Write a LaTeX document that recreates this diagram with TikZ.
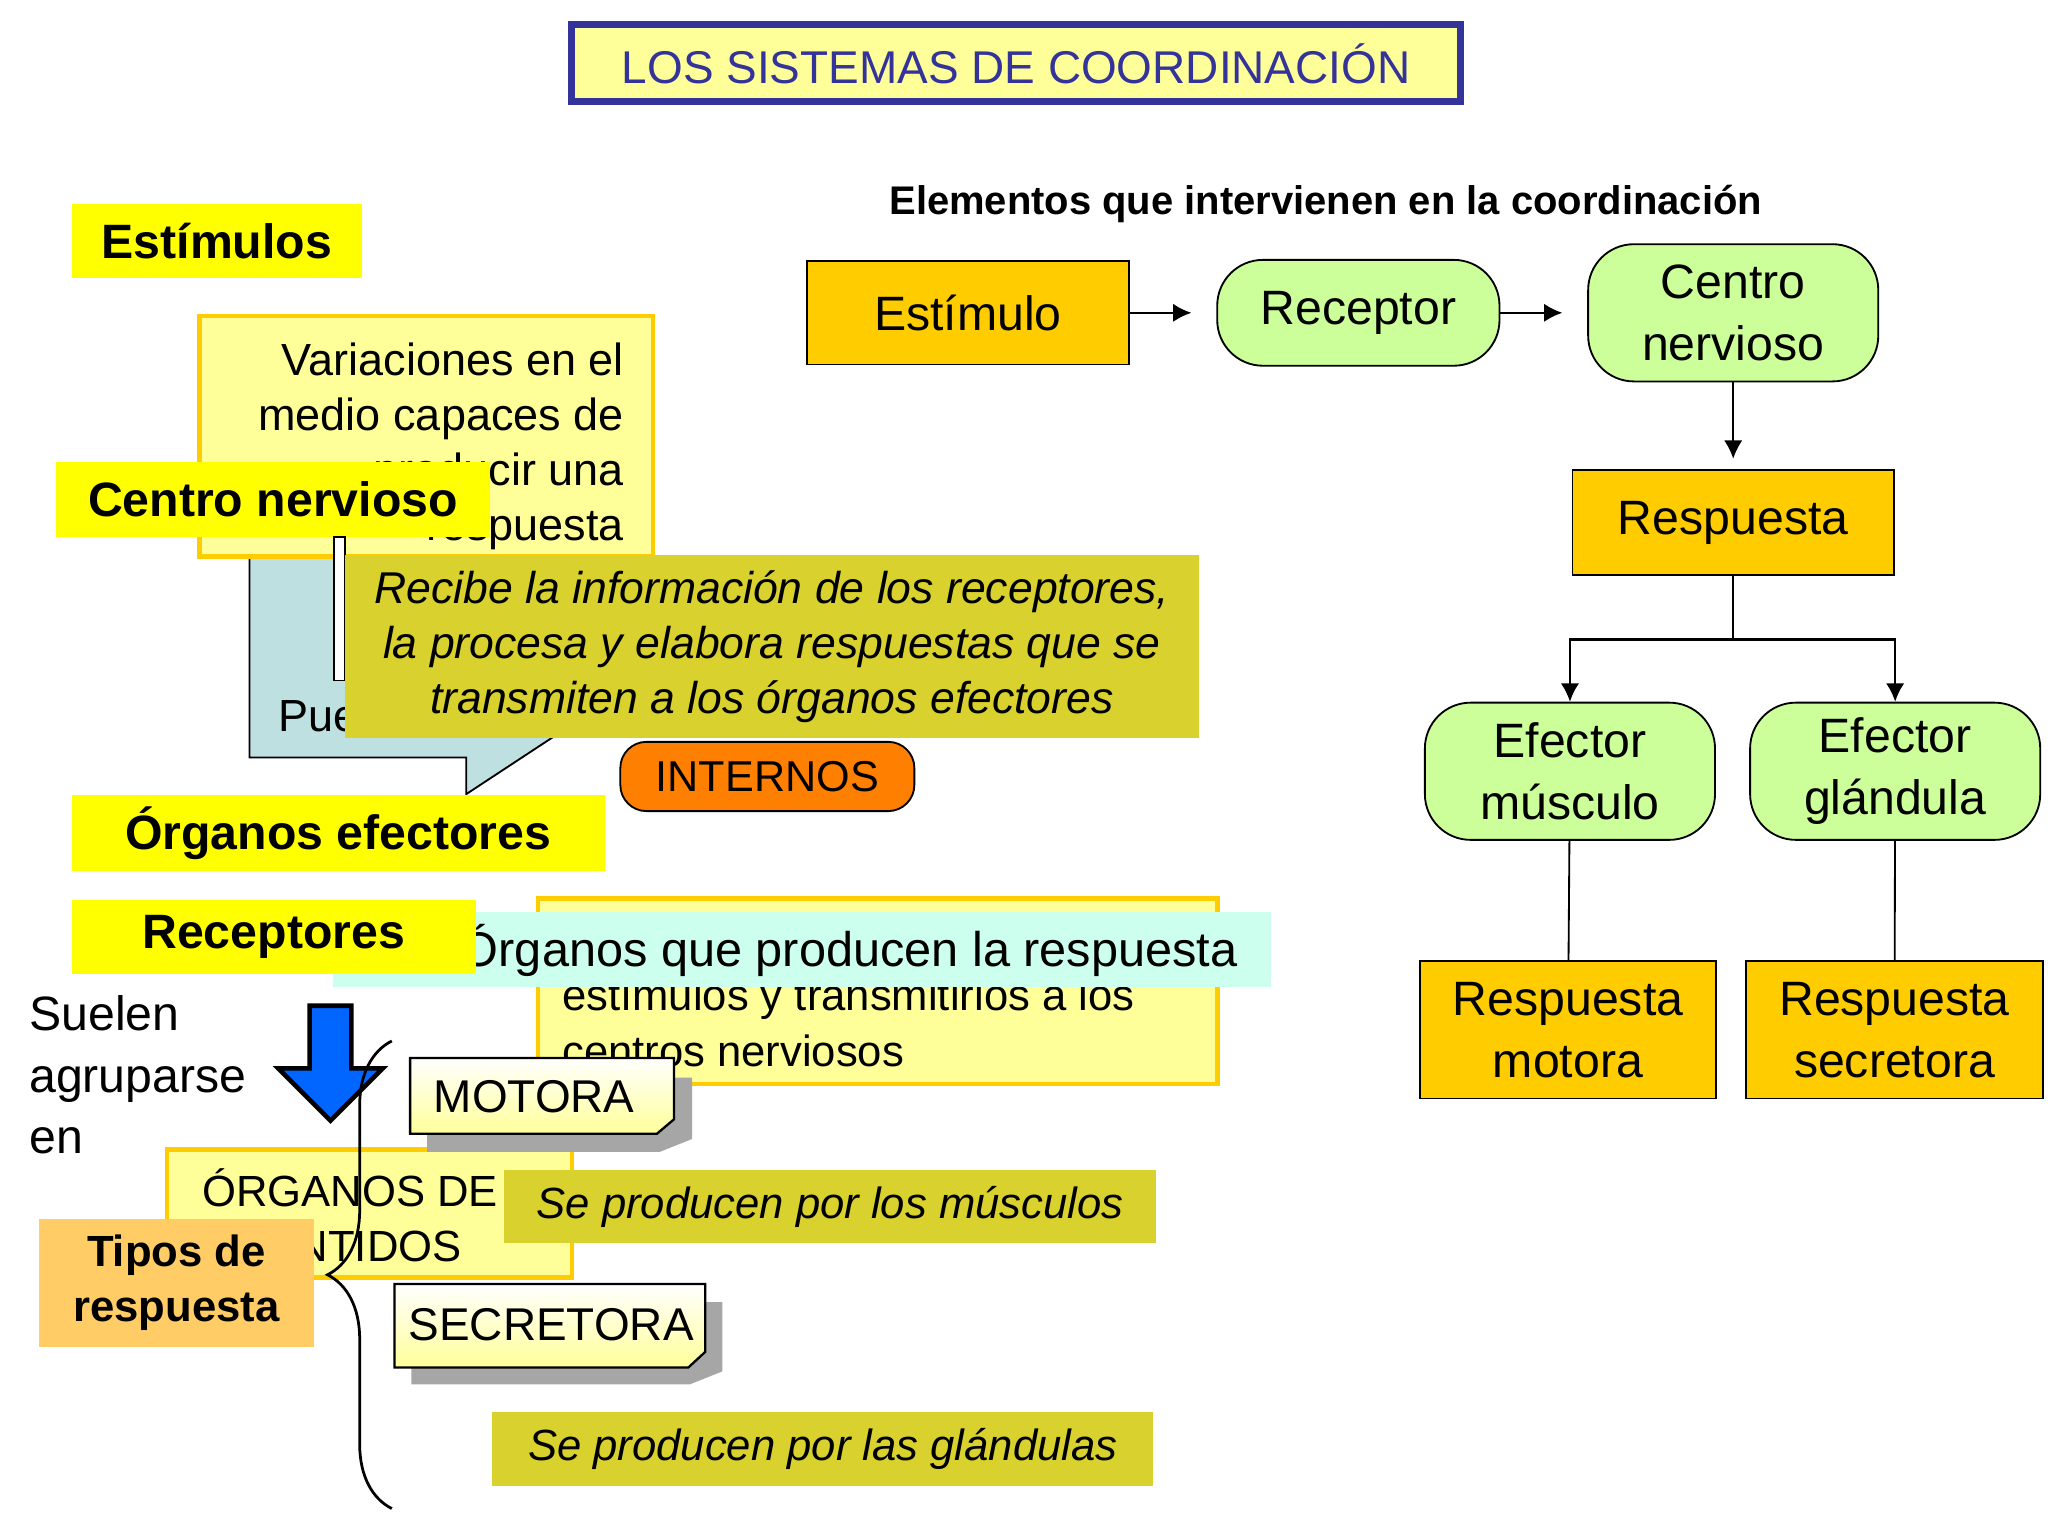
\documentclass[tikz,border=0pt]{standalone}
\usepackage{fontspec}
\setmainfont{Liberation Sans}
\usetikzlibrary{positioning,arrows.meta,decorations.pathreplacing}
\definecolor{lblyel}{HTML}{FFFF00}
\definecolor{paleyel}{HTML}{FFFF99}
\definecolor{olive}{HTML}{D9D12E}
\definecolor{flowyel}{HTML}{FFCC00}
\definecolor{flowgrn}{HTML}{CCFF99}
\definecolor{navy}{HTML}{333399}
\definecolor{callblue}{HTML}{BFE0E0}
\definecolor{cyanstrip}{HTML}{CCFFEE}
\definecolor{tipos}{HTML}{FFCC66}
\tikzset{
  lbl/.style={fill=lblyel, inner sep=0pt, font=\fontsize{10.5}{12}\selectfont\bfseries},
  palebox/.style={fill=paleyel, draw=flowyel, line width=1pt, inner sep=0pt},
  olivebox/.style={fill=olive, inner sep=0pt, font=\fontsize{9.5}{12}\selectfont\itshape, align=center},
  flowbox/.style={draw=black, fill=flowyel, inner sep=0pt, align=center, font=\fontsize{10.5}{13.4}\selectfont},
  flowround/.style={flowbox, fill=flowgrn, rounded corners=0.35cm},
  link/.style={-{Latex[length=4pt,width=4pt]}, line width=0.5pt},
  notetxt/.style={font=\fontsize{10}{12}\selectfont},
}
\begin{document}
\begin{tikzpicture}[x=0.01cm,y=-0.01cm]
  \useasboundingbox (0,0) rectangle (1568,1176);
  % left side, stacked slide layers
  \fill[callblue, draw=black, line width=0.4pt] (191,405) -- (191,580) -- (357,580) -- (357,608) -- (430,560) -- (430,405) -- cycle;
  \node[anchor=west, font=\fontsize{9.8}{12}\selectfont] (pue) at (201,548) {Pue};
  \node[palebox, minimum width=3.47cm, minimum height=1.84cm] (variac) at (326.5,334) {};
  \node[anchor=north east, align=right, font=\fontsize{9.8}{12}\selectfont] (variactxt) at (490,250)
    {Variaciones en el\\medio capaces de\\producir una\\respuesta};
  \node[lbl, minimum width=2.22cm, minimum height=0.57cm] (estim) at (166,184.5) {Estímulos};
  \node[lbl, minimum width=3.32cm, minimum height=0.57cm] (centro) at (209,382.5) {Centro nervioso};
  \fill[white, draw=black, line width=0.4pt] (256,411) rectangle (264,521);
  \node[olivebox, minimum width=6.54cm, minimum height=1.40cm, font=\fontsize{9.7}{12}\selectfont\itshape] (recibe) at (591,495)
    {Recibe la información de los receptores,\\la procesa y elabora respuestas que se\\transmiten a los órganos efectores};
  \node[draw=black, fill=orange, rounded corners=0.2cm, minimum width=2.25cm, minimum height=0.53cm, inner sep=0pt,
    font=\fontsize{9.4}{12}\selectfont] (internos) at (587.5,594.5) {INTERNOS};
  \node[lbl, minimum width=4.08cm, minimum height=0.58cm] (efect) at (259,638) {Órganos efectores};
  \node[palebox, minimum width=5.20cm, minimum height=1.42cm] (estbox) at (672,759) {};
  \node[anchor=north west, align=left, font=\fontsize{9.5}{12}\selectfont] (esttxt) at (418,737)
    {estímulos y transmitirlos a los\\centros nerviosos};
  \node[fill=cyanstrip, minimum width=7.18cm, minimum height=0.58cm, inner sep=0pt] (strip) at (614,727) {};
  \node[anchor=east, font=\fontsize{10.6}{12}\selectfont] (striptxt) at (960,728) {Órganos que producen la respuesta};
  \node[lbl, minimum width=3.09cm, minimum height=0.57cm] (recep) at (209.5,717.5) {Receptores};
  \node[anchor=north west, align=left, font=\fontsize{10.5}{13.4}\selectfont] (suelen) at (10,750)
    {Suelen\\agruparse\\en};
  \fill[blue!60!cyan, draw=black, line width=1pt] (237,770) -- (269,770) -- (269,818) -- (293,818) -- (253,858) -- (213,818) -- (237,818) -- cycle;
  \node[palebox, minimum width=3.10cm, minimum height=0.98cm] (sentidos) at (283,929) {};
  \node[anchor=north, align=center, font=\fontsize{9.5}{12}\selectfont] (sentxt) at (268,882) {ÓRGANOS DE\\SENTIDOS};
  \node[fill=tipos, minimum width=2.10cm, minimum height=0.98cm, inner sep=0pt, align=center,
    font=\fontsize{9.5}{12}\selectfont\bfseries] (tipos) at (135,982) {Tipos de\\respuesta};
  \coordinate (bracetop) at (300,797);
  \coordinate (bracebot) at (300,1155);
  \draw[decorate, decoration={brace, amplitude=14pt, mirror}, line width=0.6pt] (bracetop) -- (bracebot);
  % motora note
  \fill[gray!70] (327,825) -- (530,825) -- (530,872) -- (505,882) -- (327,882) -- cycle;
  \shade[top color=white, bottom color=paleyel, draw=black, line width=0.5pt] (314,810) -- (516,810) -- (516,857) -- (503,868) -- (314,868) -- cycle;
  \node[notetxt] (motora) at (409,840) {MOTORA};
  \node[olivebox, minimum width=4.99cm, minimum height=0.56cm] (musc) at (635.5,924) {Se producen por los músculos};
  % secretora note
  \fill[gray!70] (315,997) -- (553,997) -- (553,1050) -- (528,1060) -- (315,1060) -- cycle;
  \shade[top color=white, bottom color=paleyel, draw=black, line width=0.5pt] (302,983) -- (540,983) -- (540,1035) -- (527,1047) -- (302,1047) -- cycle;
  \node[notetxt] (secret) at (422,1014) {SECRETORA};
  \node[olivebox, minimum width=5.06cm, minimum height=0.57cm] (gland) at (630,1109.5) {Se producen por las glándulas};
  % title and flow on the right
  \node[draw=navy, fill=paleyel, line width=1.5pt, minimum width=6.80cm, minimum height=0.59cm, inner sep=0pt,
    text=navy, font=\fontsize{10}{12}\selectfont] (title) at (778,48.5) {LOS SISTEMAS DE COORDINACIÓN};
  \node[font=\fontsize{8.7}{10}\selectfont\bfseries] (elem) at (1015,156) {Elementos que intervienen en la coordinación};
  \node[flowbox, minimum width=2.46cm, minimum height=0.79cm] (estimulo) at (741,239.5) {Estímulo};
  \node[flowround, minimum width=2.16cm, minimum height=0.81cm] (receptor) at (1040,239.5) {Receptor};
  \node[flowround, minimum width=2.22cm, minimum height=1.05cm] (cnerv) at (1327,239.5) {Centro\\nervioso};
  \node[flowbox, minimum width=2.46cm, minimum height=0.80cm] (resp) at (1327,400) {Respuesta};
  \node[flowround, minimum width=2.22cm, minimum height=1.05cm] (efmusc) at (1202,590.5) {Efector\\músculo};
  \node[flowround, minimum width=2.22cm, minimum height=1.05cm] (efgland) at (1451,590.5) {Efector\\glándula};
  \node[flowbox, minimum width=2.27cm, minimum height=1.05cm] (rmotora) at (1200.5,788.5) {Respuesta\\motora};
  \node[flowbox, minimum width=2.27cm, minimum height=1.05cm] (rsecret) at (1450.5,788.5) {Respuesta\\secretora};
  \draw[link, shorten >=0.19cm] (estimulo) -- (receptor);
  \draw[link, shorten >=0.19cm] (receptor) -- (cnerv);
  \draw[link, shorten >=0.08cm] (cnerv) -- (resp);
  \draw[link] (resp.south) -- ++(0,49) -| (efmusc.north);
  \draw[link] (resp.south) -- ++(0,49) -| (efgland.north);
  \draw (efmusc) -- (rmotora);
  \draw (efgland) -- (rsecret);
\end{tikzpicture}
\end{document}
